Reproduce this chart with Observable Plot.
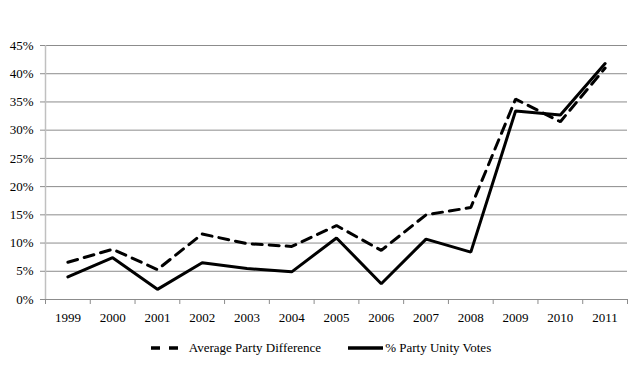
<!DOCTYPE html>
<html>
<head>
<meta charset="utf-8">
<script src="https://cdn.jsdelivr.net/npm/d3@7"></script>
<script src="https://cdn.jsdelivr.net/npm/@observablehq/plot@0.6"></script>
<style>
  html, body { margin: 0; padding: 0; background: #fff; }
  #chart { width: 642px; font-family: 'Liberation Serif', 'Tinos', 'DejaVu Serif', 'Noto Serif', Times, serif; color: #000; }
  #chart svg text { font-family: 'Liberation Serif', 'Tinos', 'DejaVu Serif', 'Noto Serif', Times, serif; }
  .legend { display: flex; justify-content: center; align-items: center; height: 36px; font-size: 13px; }
  .legend .item { display: flex; align-items: center; }
  .legend svg { display: block; }
</style>
</head>
<body>
<div id="chart"></div>
<script>
const years = [1999, 2000, 2001, 2002, 2003, 2004, 2005, 2006, 2007, 2008, 2009, 2010, 2011];
const avgPartyDifference = [0.066, 0.089, 0.053, 0.116, 0.099, 0.094, 0.131, 0.087, 0.150, 0.163, 0.355, 0.315, 0.410];
const partyUnityVotes = [0.040, 0.074, 0.018, 0.065, 0.055, 0.049, 0.109, 0.028, 0.107, 0.084, 0.334, 0.327, 0.418];
const yTicks = [0, 0.05, 0.10, 0.15, 0.20, 0.25, 0.30, 0.35, 0.40, 0.45];
const seriesNames = ["Average Party Difference", "% Party Unity Votes"];

const rows = [];
years.forEach((y, i) => {
  rows.push({year: y, value: avgPartyDifference[i], series: seriesNames[0]});
  rows.push({year: y, value: partyUnityVotes[i], series: seriesNames[1]});
});
const boundaries = years.map(y => y - 0.5).concat([years[years.length - 1] + 0.5]);
const x0 = years[0] - 0.5, x1 = years[years.length - 1] + 0.5;
const serif = "'Liberation Serif', 'Tinos', 'DejaVu Serif', 'Noto Serif', Times, serif";

const plot = Plot.plot({
  width: 642,
  height: 330,
  marginLeft: 45,
  marginRight: 15,
  marginTop: 45,
  marginBottom: 31,
  style: {fontFamily: serif, fontSize: "13px", color: "#000", background: "#fff"},
  x: {domain: [x0, x1], axis: null},
  y: {domain: [0, 0.45], axis: null},
  marks: [
    Plot.gridY(yTicks.filter(d => d > 0), {stroke: "#8c8c8c", strokeOpacity: 1, strokeWidth: 1}),
    Plot.ruleX([x0], {stroke: "#c0c0c0", strokeWidth: 1.5}),
    Plot.ruleY([0], {stroke: "#8c8c8c", strokeWidth: 1}),
    Plot.axisY({ticks: yTicks, tickFormat: d3.format(".0%"), tickSize: 5, tickPadding: 7, stroke: "#8c8c8c", label: null, fill: "#000"}),
    Plot.axisX({ticks: boundaries, tickFormat: () => "", tickSize: 5, stroke: "#8c8c8c", label: null}),
    Plot.axisX({ticks: years, tickFormat: d => String(d), tickSize: 0, tickPadding: 13, label: null, fill: "#000"}),
    Plot.line(rows.filter(d => d.series === seriesNames[0]), {x: "year", y: "value", stroke: "#000", strokeWidth: 3, strokeDasharray: "10,7", strokeLinejoin: "miter"}),
    Plot.line(rows.filter(d => d.series === seriesNames[1]), {x: "year", y: "value", stroke: "#000", strokeWidth: 3, strokeLinejoin: "miter"})
  ]
});

const chart = document.getElementById("chart");
chart.appendChild(plot);

const legend = document.createElement("div");
legend.className = "legend";
legend.innerHTML = `
  <div class="item">
    <svg width="32" height="6"><line x1="0" y1="3" x2="32" y2="3" stroke="#000" stroke-width="3.5" stroke-dasharray="9,9"/></svg>
    <span style="margin-left:6px">${seriesNames[0]}</span>
  </div>
  <div class="item" style="margin-left:27px">
    <svg width="35" height="6"><line x1="0" y1="3" x2="35" y2="3" stroke="#000" stroke-width="3.5"/></svg>
    <span style="margin-left:2px">${seriesNames[1]}</span>
  </div>`;
chart.appendChild(legend);
</script>
</body>
</html>
